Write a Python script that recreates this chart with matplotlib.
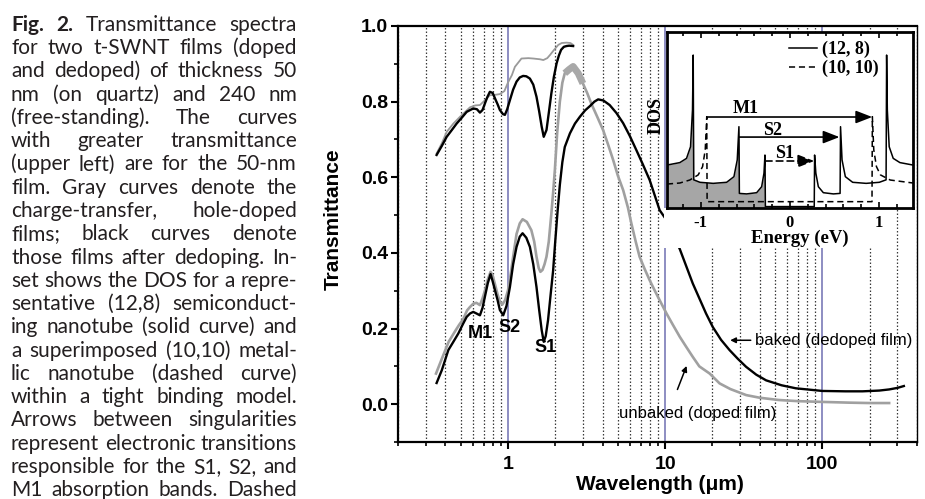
import numpy as np
import matplotlib
matplotlib.use("Agg")
import matplotlib.pyplot as plt
from matplotlib.font_manager import FontProperties
from matplotlib.ticker import LogLocator, NullFormatter, MultipleLocator, FixedLocator
from matplotlib.patches import Rectangle

plt.rcParams['font.family'] = 'Liberation Sans'

# ---- main plot data (wavelength in um, transmittance) ----
thin_doped_x = [0.352, 0.38, 0.408, 0.45, 0.496, 0.574, 0.62, 0.664, 0.72, 0.768, 0.83, 0.889,
                0.95, 1.0, 1.06, 1.108, 1.22, 1.35, 1.45, 1.6, 1.68, 1.78, 1.85, 1.95, 2.09,
                2.2, 2.36, 2.5, 2.6]
thin_doped_y = [0.663, 0.69, 0.72, 0.742, 0.760, 0.785, 0.79, 0.791, 0.805, 0.817, 0.818, 0.820,
                0.828, 0.850, 0.87, 0.892, 0.914, 0.915, 0.914, 0.912, 0.910, 0.915, 0.923, 0.935,
                0.950, 0.955, 0.956, 0.955, 0.950]

thin_dedoped_x = [0.352, 0.38, 0.408, 0.44, 0.472, 0.51, 0.547, 0.602, 0.635, 0.664, 0.69, 0.714,
                  0.74, 0.768, 0.80, 0.827, 0.86, 0.889, 0.93, 0.957, 0.99, 1.03, 1.08, 1.135,
                  1.19, 1.25, 1.31, 1.38, 1.45, 1.52, 1.58, 1.64, 1.69, 1.76, 1.82, 1.89, 1.96,
                  2.04, 2.11, 2.18, 2.27, 2.36, 2.45, 2.6]
thin_dedoped_y = [0.659, 0.683, 0.707, 0.725, 0.742, 0.758, 0.773, 0.782, 0.780, 0.771, 0.778, 0.795,
                  0.812, 0.826, 0.823, 0.809, 0.793, 0.778, 0.767, 0.765, 0.78, 0.804, 0.832, 0.853,
                  0.864, 0.868, 0.867, 0.861, 0.845, 0.813, 0.775, 0.734, 0.707, 0.725, 0.77, 0.822,
                  0.865, 0.901, 0.922, 0.937, 0.945, 0.947, 0.948, 0.947]

thick_doped_x = [0.349, 0.38, 0.42, 0.46, 0.49, 0.52, 0.55, 0.574, 0.60, 0.63, 0.664, 0.69, 0.714,
                 0.745, 0.776, 0.80, 0.83, 0.86, 0.89, 0.92, 0.96, 1.0, 1.03, 1.08, 1.135, 1.19,
                 1.24, 1.32, 1.41, 1.47, 1.52, 1.57, 1.61, 1.66, 1.71, 1.76, 1.82, 1.89, 1.94,
                 1.99, 2.06, 2.14, 2.22, 2.30, 2.45, 2.6, 2.8, 3.0, 3.2, 3.39, 3.7, 4.03, 4.35,
                 4.67, 5.0, 5.41, 5.8, 6.1, 6.5, 6.88, 7.4, 7.97, 8.6, 9.23, 10.2, 11.2, 12.4,
                 13.7, 15.0, 16.5, 19.2, 22.2, 26, 32.8, 40, 53, 70, 100, 150, 200, 266]
thick_doped_y = [0.081, 0.12, 0.165, 0.192, 0.21, 0.225, 0.248, 0.257, 0.265, 0.268, 0.262, 0.28,
                 0.30, 0.33, 0.35, 0.34, 0.315, 0.29, 0.272, 0.263, 0.275, 0.30, 0.33, 0.39, 0.45,
                 0.478, 0.489, 0.482, 0.46, 0.43, 0.39, 0.36, 0.350, 0.355, 0.37, 0.39, 0.43,
                 0.504, 0.56, 0.62, 0.72, 0.80, 0.85, 0.875, 0.885, 0.893, 0.875, 0.848, 0.822,
                 0.795, 0.76, 0.725, 0.685, 0.646, 0.605, 0.566, 0.52, 0.478, 0.43, 0.39, 0.358,
                 0.328, 0.30, 0.275, 0.240, 0.21, 0.178, 0.15, 0.125, 0.10, 0.081, 0.055, 0.04,
                 0.024, 0.017, 0.011, 0.008, 0.006, 0.004, 0.003, 0.003]

thick_dedoped_x = [0.352, 0.38, 0.418, 0.45, 0.484, 0.515, 0.547, 0.575, 0.602, 0.63, 0.664, 0.69,
                   0.714, 0.745, 0.776, 0.80, 0.827, 0.86, 0.889, 0.934, 0.98, 1.03, 1.08, 1.135,
                   1.19, 1.24, 1.31, 1.38, 1.45, 1.52, 1.58, 1.64, 1.69, 1.74, 1.80, 1.87, 1.94,
                   2.0, 2.07, 2.14, 2.22, 2.30, 2.48, 2.67, 2.87, 3.1, 3.32, 3.55, 3.75, 4.05,
                   4.44, 4.9, 5.41, 5.95, 6.56, 7.2, 7.97, 9.23, 10.2, 12.4, 15.0, 18.2, 20.1,
                   22.7, 25.7, 29, 32.7, 38, 43.9, 55, 67.8, 100, 140, 180, 230, 266, 300, 330]
thick_dedoped_y = [0.056, 0.09, 0.143, 0.165, 0.187, 0.21, 0.231, 0.24, 0.244, 0.24, 0.235, 0.255,
                   0.284, 0.32, 0.344, 0.325, 0.302, 0.275, 0.249, 0.235, 0.26, 0.31, 0.37, 0.416,
                   0.443, 0.452, 0.44, 0.416, 0.37, 0.31, 0.25, 0.196, 0.165, 0.18, 0.222, 0.29,
                   0.354, 0.43, 0.51, 0.58, 0.64, 0.68, 0.716, 0.742, 0.760, 0.777, 0.788, 0.80,
                   0.806, 0.803, 0.791, 0.77, 0.743, 0.71, 0.672, 0.635, 0.593, 0.513, 0.487,
                   0.41, 0.319, 0.24, 0.204, 0.17, 0.143, 0.12, 0.099, 0.078, 0.063, 0.05, 0.042,
                   0.035, 0.034, 0.034, 0.036, 0.039, 0.043, 0.048]

xtick_vals = [1, 10, 100]
xtick_labels = ['1', '10', '100']
ytick_vals = [0.0, 0.2, 0.4, 0.6, 0.8, 1.0]
ytick_labels = ['0.0', '0.2', '0.4', '0.6', '0.8', '1.0']

# ---- inset data (energy in eV, DOS in arbitrary units) ----
semi_E = [-1.38, -1.236, -1.161, -1.116, -1.094, -1.086, -1.080, -1.01, -0.862, -0.711, -0.629,
          -0.592, -0.573, -0.568, -0.487, -0.374, -0.318, -0.292, -0.281, -0.276, 0.272, 0.276,
          0.29, 0.318, 0.374, 0.487, 0.562, 0.567, 0.584, 0.621, 0.703, 0.854, 1.002, 1.078,
          1.084, 1.092, 1.113, 1.158, 1.233, 1.38]
semi_dos = [0.244, 0.258, 0.282, 0.348, 0.557, 0.869, 0.160, 0.146, 0.140, 0.146, 0.178, 0.273,
            0.462, 0.083, 0.080, 0.087, 0.121, 0.198, 0.301, 0.008, 0.008, 0.301, 0.198, 0.121,
            0.087, 0.080, 0.083, 0.462, 0.273, 0.178, 0.146, 0.140, 0.146, 0.160, 0.869, 0.557,
            0.348, 0.282, 0.258, 0.244]
metal_E = [-1.38, -1.236, -1.124, -1.03, -0.981, -0.951, -0.934, -0.930, 0.920, 0.924, 0.940,
           0.970, 1.015, 1.124, 1.38]
metal_dos = [0.136, 0.142, 0.159, 0.188, 0.235, 0.33, 0.519, 0.036, 0.036, 0.519, 0.33, 0.235,
             0.188, 0.159, 0.142]
trans_names = ['M1', 'S2', 'S1']
trans_start = [-0.925, -0.572, -0.276]
trans_end = [0.922, 0.555, 0.272]
trans_level = [0.517, 0.403, 0.267]

caption_lines = [
    "Fig. 2. Transmittance spectra",
    "for two t-SWNT films (doped",
    "and dedoped) of thickness 50",
    "nm (on quartz) and 240 nm",
    "(free-standing). The curves",
    "with greater transmittance",
    "(upper left) are for the 50-nm",
    "film. Gray curves denote the",
    "charge-transfer, hole-doped",
    "films; black curves denote",
    "those films after dedoping. In-",
    "set shows the DOS for a repre-",
    "sentative (12,8) semiconduct-",
    "ing nanotube (solid curve) and",
    "a superimposed (10,10) metal-",
    "lic nanotube (dashed curve)",
    "within a tight binding model.",
    "Arrows between singularities",
    "represent electronic transitions",
    "responsible for the S1, S2, and",
    "M1 absorption bands. Dashed",
]

W, H = 925, 499
fig = plt.figure(figsize=(W / 100, H / 100), dpi=100)


def fx(px):
    return px / W


def fy(py):
    return 1 - py / H


# main axes
ax = fig.add_axes([fx(398), fy(442), (917 - 398) / W, (442 - 26) / H])
ax.set_xscale('log')
ax.set_xlim(0.2, 400)
ax.set_ylim(-0.1, 1.0)
ax.set_axisbelow(True)
ax.xaxis.set_major_locator(FixedLocator(xtick_vals))
ax.xaxis.set_minor_locator(LogLocator(base=10, subs=np.arange(2, 10)))
ax.xaxis.set_minor_formatter(NullFormatter())
ax.set_xticks(xtick_vals, labels=xtick_labels, fontweight='bold', fontsize=14)
ax.set_yticks(ytick_vals, labels=ytick_labels, fontweight='bold', fontsize=14)
ax.yaxis.set_minor_locator(MultipleLocator(0.1))
ax.tick_params(which='major', direction='out', length=5, width=1.5, pad=2)
ax.tick_params(which='minor', direction='out', length=3, width=1.2)
ax.tick_params(axis='x', which='major', pad=5)
ax.grid(True, which='minor', axis='x', color='#3a3a3a', ls=(0, (1.2, 1.6)), lw=0.9)
ax.grid(True, which='major', axis='x', color='#7a7ab8', ls='-', lw=1.2)
for side in ['left', 'bottom', 'top']:
    ax.spines[side].set_linewidth(1.6)
ax.spines['right'].set_linewidth(1.0)

ax.plot(thin_doped_x, thin_doped_y, color='#9a9a9a', lw=1.3, zorder=3)
ax.plot(thin_dedoped_x, thin_dedoped_y, color='black', lw=1.7, zorder=4)
tdx = np.array(thick_doped_x)
tdy = np.array(thick_doped_y)
ax.plot(tdx, tdy, color='#a0a0a0', lw=1.9, zorder=3)
noisy = (tdx >= 2.25) & (tdx <= 3.0)
ax.plot(tdx[noisy], tdy[noisy], color='#a8a8a8', lw=5, zorder=3, solid_capstyle='butt')
ax.plot(thick_dedoped_x, thick_dedoped_y, color='black', lw=1.7, zorder=4)

ax.text(0.664, 0.188, 'M1', fontsize=13, fontweight='bold', ha='center', va='center')
ax.text(1.03, 0.204, 'S2', fontsize=13, fontweight='bold', ha='center', va='center')
ax.text(1.74, 0.151, 'S1', fontsize=13, fontweight='bold', ha='center', va='center')
ax.text(37.5, 0.169, 'baked (dedoped film)', fontsize=12, ha='left', va='center')
ax.annotate('', xy=(24.9, 0.169), xytext=(36.5, 0.169),
            arrowprops=dict(arrowstyle='-|>', lw=1.1, color='black', mutation_scale=8))
ax.text(5.1, -0.024, 'unbaked (doped film)', fontsize=12, ha='left', va='center')
ax.annotate('', xy=(13.9, 0.108), xytext=(11.8, 0.032),
            arrowprops=dict(arrowstyle='-|>', lw=1.1, color='black', mutation_scale=8))

ax.set_xlabel('Wavelength (\u03bcm)', fontsize=15, fontweight='bold')
ax.xaxis.set_label_coords(0.505, -0.079)
ax.set_ylabel('Transmittance', fontsize=15, fontweight='bold')
ax.yaxis.set_label_coords(-0.125, 0.535)
ax.yaxis.label.set_va('center')

# white background behind the inset labels
fig.add_artist(Rectangle((fx(664), fy(248)), 226 / W, 40 / H, transform=fig.transFigure,
                         facecolor='white', edgecolor='none', zorder=2))

# inset
serif_b = dict(family='Liberation Serif', fontweight='bold')
ins = fig.add_axes([fx(667), fy(208), (913 - 667) / W, (208 - 32) / H], zorder=3)
ins.set_facecolor('white')
ins.set_xlim(-1.38, 1.38)
ins.set_ylim(0, 1)
ins.fill_between(semi_E, 0, semi_dos, where=np.array(semi_E) <= -0.27,
                 color='#a6a6a6', lw=0)
ins.plot(semi_E, semi_dos, color='black', lw=1.1, label='(12, 8)')
ins.plot(metal_E, metal_dos, color='black', lw=1.1, ls=(0, (4, 2.5)), label='(10, 10)')
for i, name in enumerate(trans_names):
    style = (0, (4, 2.5)) if name == 'S1' else '-'
    ins.annotate('', xy=(trans_end[i], trans_level[i]), xytext=(trans_start[i], trans_level[i]),
                 arrowprops=dict(arrowstyle='-|>,head_length=0.9,head_width=0.35', lw=1.2,
                                 color='black', mutation_scale=11, linestyle=style,
                                 shrinkA=0, shrinkB=0))
ins.text(-0.5, 0.563, 'M1', fontsize=13, ha='center', va='center', **serif_b)
ins.text(-0.2, 0.443, 'S2', fontsize=13, ha='center', va='center', **serif_b)
ins.text(-0.06, 0.312, 'S1', fontsize=13, ha='center', va='center', **serif_b)
ins.set_xticks([-1, 0, 1], labels=['-1', '0', '1'])
ins.xaxis.set_minor_locator(MultipleLocator(0.2))
ins.set_yticks([])
ins.tick_params(which='both', direction='in', top=True, bottom=True, width=1.2)
ins.tick_params(which='major', length=4, pad=5)
ins.tick_params(which='minor', length=3)
for lbl in ins.get_xticklabels():
    lbl.set_fontfamily('Liberation Serif')
    lbl.set_fontweight('bold')
    lbl.set_fontsize(12)
for s in ins.spines.values():
    s.set_linewidth(2)
ins.set_xlabel('Energy (eV)', fontsize=13.5, **serif_b)
ins.xaxis.set_label_coords(0.539, -0.125)
ins.set_ylabel('DOS', fontsize=13, **serif_b)
ins.yaxis.set_label_coords(-0.045, 0.523)
ins.yaxis.label.set_va('center')
leg = ins.legend(loc='upper right', bbox_to_anchor=(0.86, 0.95), frameon=False,
                 prop=FontProperties(family='Liberation Serif', weight='bold', size=13),
                 handlelength=1.6, handletextpad=0.25, labelspacing=0.1,
                 borderpad=0, borderaxespad=0)

# caption, justified between two edges
fig.canvas.draw()
rend = fig.canvas.get_renderer()
left_px, right_px = 11, 297
base0, step = 30.7, 23.28


def words_of(i, line):
    ws = line.split(' ')
    return [(w, i == 0 and j < 2) for j, w in enumerate(ws)]


def width(s, fp):
    return rend.get_text_width_height_descent(s, fp, ismath=False)[0]


cap_fs = 15.0
while True:
    fp_r = FontProperties(family='Lato', size=cap_fs)
    fp_b = FontProperties(family='Lato', weight='bold', size=cap_fs)
    sp = width('a a', fp_r) - 2 * width('a', fp_r)
    widest = 0
    for i, line in enumerate(caption_lines):
        ws = words_of(i, line)
        tot = sum(width(w, fp_b if b else fp_r) for w, b in ws) + sp * (len(ws) - 1)
        widest = max(widest, tot)
    if widest <= right_px - left_px or cap_fs < 9:
        break
    cap_fs -= 0.25

for i, line in enumerate(caption_lines):
    ws = words_of(i, line)
    wl = [width(w, fp_b if b else fp_r) for w, b in ws]
    gap = (right_px - left_px - sum(wl)) / (len(ws) - 1)
    x = left_px
    yb = base0 + i * step
    for (w, b), ww in zip(ws, wl):
        fig.text(fx(x), fy(yb), w, fontproperties=fp_b if b else fp_r,
                 color='#231f20', ha='left', va='baseline')
        x += ww + gap

fig.savefig('out.png', dpi=100)
